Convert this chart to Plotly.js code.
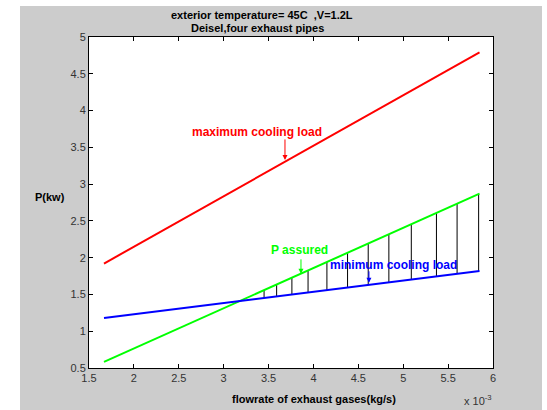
<!DOCTYPE html>
<html>
<head>
<meta charset="utf-8">
<script src="https://cdn.plot.ly/plotly-3.0.1.min.js"></script>
<style>
html,body{margin:0;padding:0;background:#ffffff;width:547px;height:410px;overflow:hidden;}
#chart{position:absolute;left:20px;top:6px;width:522px;height:404px;}
</style>
</head>
<body>
<div id="chart"></div>
<script>
// flowrate in units of 1e-3 kg/s
const flowrate = [1.667, 5.85];
const maxCoolingLoad = [1.92, 4.79];
const pAssured = [0.584, 2.87];
const minCoolingLoad = [1.18, 1.82];

// hatch lines between P assured (top) and minimum cooling load (bottom)
const hatchX = [3.45, 3.59, 3.76, 3.94, 4.15, 4.38, 4.61, 4.84, 5.09, 5.37, 5.60, 5.84];
const hatchTop = [1.558, 1.635, 1.728, 1.826, 1.941, 2.067, 2.192, 2.318, 2.455, 2.608, 2.733, 2.865];
const hatchBottom = [1.453, 1.474, 1.500, 1.528, 1.560, 1.595, 1.630, 1.665, 1.704, 1.747, 1.782, 1.818];

const xTicks = [1.5, 2, 2.5, 3, 3.5, 4, 4.5, 5, 5.5, 6];
const yTicks = [0.5, 1, 1.5, 2, 2.5, 3, 3.5, 4, 4.5, 5];

const hx = [], hy = [];
for (let i = 0; i < hatchX.length; i++) {
  hx.push(hatchX[i], hatchX[i], null);
  hy.push(hatchTop[i], hatchBottom[i], null);
}

const traces = [
  {x: hx, y: hy, mode: 'lines', line: {color: '#000000', width: 1}, hoverinfo: 'skip'},
  {x: flowrate, y: maxCoolingLoad, mode: 'lines', line: {color: '#ff0000', width: 2}},
  {x: flowrate, y: pAssured, mode: 'lines', line: {color: '#00ff00', width: 2}},
  {x: flowrate, y: minCoolingLoad, mode: 'lines', line: {color: '#0000ff', width: 2}}
];

// pixel -> paper helpers (plot area in page px: x 89..493, y 37..368)
const px = v => (v - 89) / 404;
const py = v => (368 - v) / 331;
const F = 'Liberation Sans, Arial, sans-serif';
const C = {xanchor: 'center', yanchor: 'middle', xref: 'paper', yref: 'paper', showarrow: false};

const annotations = [
  Object.assign({text: '<b>exterior temperature= 45C  ,V=1.2L</b>', x: px(262), y: py(15), font: {family: F, size: 11, color: '#000'}}, C),
  Object.assign({text: '<b>Deisel,four exhaust pipes</b>', x: px(257), y: py(28), font: {family: F, size: 11, color: '#000'}}, C),
  Object.assign({text: '<b>flowrate of exhaust gases(kg/s)</b>', x: px(314), y: py(399), font: {family: F, size: 11, color: '#000'}}, C),
  Object.assign({text: 'x 10<sup>-3</sup>', x: px(478), y: py(400), font: {family: F, size: 11, color: '#333'}}, C),
  Object.assign({text: '<b>P(kw)</b>', x: px(50), y: py(197), font: {family: F, size: 11, color: '#000'}}, C),

  {text: '<b>maximum cooling load</b>', x: 3.371, y: 3.709, showarrow: false, xanchor: 'center', yanchor: 'middle', font: {family: F, size: 12, color: '#ff0000'}},
  {text: '', x: 3.683, y: 3.329, ax: 0, ay: -22, showarrow: true, arrowhead: 2, arrowsize: 1, arrowwidth: 1, arrowcolor: '#ff0000'},
  {text: '<b>P assured</b>', x: 3.85, y: 2.106, showarrow: false, xanchor: 'center', yanchor: 'middle', font: {family: F, size: 12, color: '#00ff00'}},
  {text: '', x: 3.861, y: 1.78, ax: 0, ay: -16, showarrow: true, arrowhead: 2, arrowsize: 1, arrowwidth: 1, arrowcolor: '#00ff00'},
  {text: '<b>minimum cooling load</b>', x: 4.896, y: 1.902, showarrow: false, xanchor: 'center', yanchor: 'middle', font: {family: F, size: 12, color: '#0000ff'}},
  {text: '', x: 4.618, y: 1.658, ax: 0, ay: -13, showarrow: true, arrowhead: 2, arrowsize: 1, arrowwidth: 1, arrowcolor: '#0000ff'}
];

const axisCommon = {
  showgrid: false, zeroline: false, showline: true, linecolor: '#000', linewidth: 1,
  mirror: 'ticks', ticks: 'inside', ticklen: 4, tickcolor: '#000', tickwidth: 1,
  tickfont: {family: F, size: 11, color: '#333'}
};

const layout = {
  width: 522, height: 404,
  margin: {l: 69, r: 49, t: 31, b: 42},
  paper_bgcolor: '#cccccc', plot_bgcolor: '#ffffff',
  showlegend: false,
  xaxis: Object.assign({}, axisCommon, {range: [1.5, 6], tickvals: xTicks, ticktext: xTicks.map(String)}),
  yaxis: Object.assign({}, axisCommon, {range: [0.5, 5], tickvals: yTicks, ticktext: yTicks.map(String)}),
  annotations: annotations
};

Plotly.newPlot('chart', traces, layout, {staticPlot: true, displayModeBar: false});
</script>
</body>
</html>
